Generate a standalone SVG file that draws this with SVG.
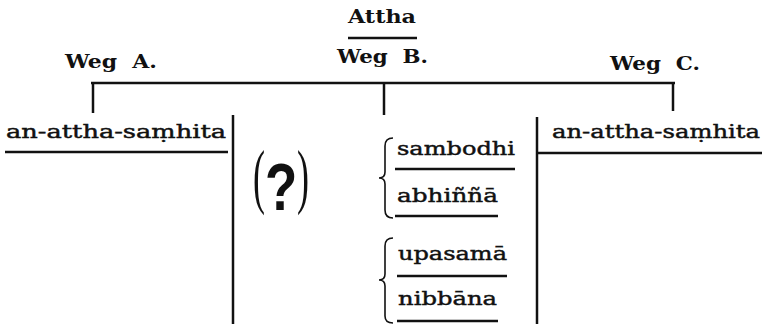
<svg xmlns="http://www.w3.org/2000/svg" width="764" height="324" viewBox="0 0 764 324">
<style>
  text { font-family: "DejaVu Serif", "Liberation Serif", serif; fill: #111; }
  .h { font-size: 18px; font-weight: bold; white-space: pre; }
  .t { font-size: 19px; stroke: #111; stroke-width: 0.45; }
  .ln { stroke: #111; stroke-width: 2.5; fill: none; }
  .ul { stroke: #111; stroke-width: 2.5; fill: none; }
  .br { stroke: #111; stroke-width: 1.6; fill: none; }
  .par { font-family: "Liberation Serif", serif; font-size: 72px; font-weight: normal; }
  .q { font-family: "Liberation Sans", sans-serif; font-size: 66px; font-weight: bold; }
</style>
<rect width="764" height="324" fill="#fff"/>
<g id="connectors">
  <line class="ln" x1="91" y1="83" x2="675" y2="83"/>
  <line class="ln" x1="93" y1="83" x2="93" y2="113"/>
  <line class="ln" x1="384" y1="83" x2="384" y2="115"/>
  <line class="ln" x1="673" y1="83" x2="673" y2="111"/>
  <line class="ln" x1="233" y1="115" x2="233" y2="324"/>
  <line class="ln" x1="537" y1="117" x2="537" y2="324"/>
  <path class="br" d="M393,138 Q385,138 385,146 L385,172 Q385,178 379,178 Q385,178 385,184 L385,210 Q385,218 393,218"/>
  <path class="br" d="M393,238 Q385,238 385,246 L385,274 Q385,280 379,280 Q385,280 385,286 L385,316 Q385,323 393,323"/>
</g>
<g id="attha">
  <text class="h" x="348" y="23" textLength="68" lengthAdjust="spacingAndGlyphs">Attha</text>
  <line class="ul" x1="348" y1="38" x2="417" y2="38"/>
</g>
<g id="weg-a"><text class="h" x="65" y="68" textLength="92" lengthAdjust="spacingAndGlyphs">Weg  A.</text></g>
<g id="weg-b"><text class="h" x="337" y="63" textLength="91" lengthAdjust="spacingAndGlyphs">Weg  B.</text></g>
<g id="weg-c"><text class="h" x="610" y="70" textLength="90" lengthAdjust="spacingAndGlyphs">Weg  C.</text></g>
<g id="left">
  <text class="t" x="6" y="138" textLength="220" lengthAdjust="spacingAndGlyphs">an-attha-saṃhita</text>
  <line class="ul" x1="5" y1="152" x2="228" y2="152"/>
</g>
<g id="right">
  <text class="t" x="552" y="138" textLength="208" lengthAdjust="spacingAndGlyphs">an-attha-saṃhita</text>
  <line class="ul" x1="538" y1="153" x2="762" y2="153"/>
</g>
<g id="question">
  <text class="par" transform="translate(253,200) scale(0.5,1)">(</text>
  <text class="q" transform="translate(265,210) scale(0.8,1)">?</text>
  <text class="par" transform="translate(297,200) scale(0.5,1)">)</text>
</g>
<g id="sambodhi">
  <text class="t" x="397" y="155" textLength="118" lengthAdjust="spacingAndGlyphs">sambodhi</text>
  <line class="ul" x1="395" y1="169" x2="515" y2="169"/>
</g>
<g id="abhinna">
  <text class="t" x="397" y="202" textLength="101" lengthAdjust="spacingAndGlyphs">abhiññā</text>
  <line class="ul" x1="395" y1="216" x2="498" y2="216"/>
</g>
<g id="upasama">
  <text class="t" x="398" y="260" textLength="109" lengthAdjust="spacingAndGlyphs">upasamā</text>
  <line class="ul" x1="397" y1="276" x2="507" y2="276"/>
</g>
<g id="nibbana">
  <text class="t" x="398" y="305" textLength="99" lengthAdjust="spacingAndGlyphs">nibbāna</text>
  <line class="ul" x1="397" y1="321" x2="498" y2="321"/>
</g>
</svg>
